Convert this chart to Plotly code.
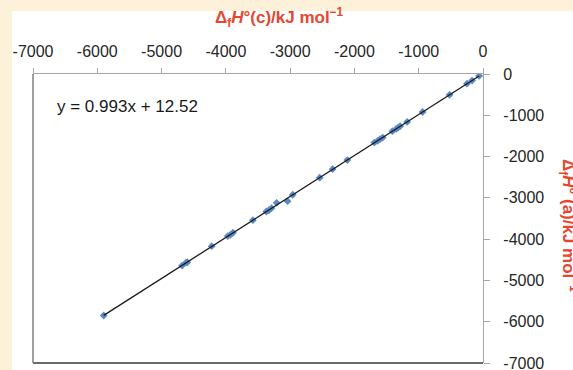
import plotly.graph_objects as go

# Data (kJ/mol)
dHf_c = [-5900, -4680, -4620, -4600, -4220, -3970, -3930, -3890, -3580, -3370,
         -3330, -3290, -3210, -3040, -2960, -2540, -2340, -2110, -1690, -1640,
         -1600, -1560, -1410, -1350, -1320, -1290, -1180, -940, -520, -250,
         -170, -60]
dHf_a = [-5850, -4640, -4570, -4560, -4170, -3925, -3895, -3845, -3540, -3330,
         -3300, -3250, -3120, -3080, -2925, -2510, -2305, -2085, -1660, -1620,
         -1575, -1540, -1385, -1330, -1300, -1265, -1160, -920, -505, -235,
         -160, -45]
slope = 0.993
intercept = 12.52
x_ticks = [-7000, -6000, -5000, -4000, -3000, -2000, -1000, 0]
y_ticks = [0, -1000, -2000, -3000, -4000, -5000, -6000, -7000]

W, H = 573, 370
L, R, T, B = 33, 483, 74, 363

def pxx(p):
    return (p - L) / (R - L)

def pxy(p):
    return (B - p) / (B - T)

trend_x = [min(dHf_c), max(dHf_c)]
trend_y = [slope * v + intercept for v in trend_x]

fig = go.Figure()
fig.add_trace(go.Scatter(x=dHf_c, y=dHf_a, mode="markers",
                         marker=dict(symbol="diamond", size=6, color="#5a8ac6"),
                         showlegend=False, hoverinfo="skip"))
fig.add_trace(go.Scatter(x=trend_x, y=trend_y, mode="lines",
                         line=dict(color="#1a1a1a", width=1.3),
                         showlegend=False, hoverinfo="skip"))

FONT = "Liberation Sans, Arial, sans-serif"
tickfont = dict(family=FONT, size=16, color="#262626")
red = "#e8452e"

fig.update_layout(
    width=W, height=H,
    margin=dict(l=L, r=W - R, t=T, b=H - B, pad=0, autoexpand=False),
    paper_bgcolor="#fdf2d9",
    plot_bgcolor="white",
    xaxis=dict(side="top", range=[-7000, 0], tickvals=x_ticks,
               ticktext=[str(v) for v in x_ticks],
               showgrid=False, zeroline=False, showline=True,
               linecolor="#a6a6a6", linewidth=1.2,
               ticks="outside", ticklen=5, tickcolor="#a6a6a6",
               tickfont=tickfont, ticklabelstandoff=5,
               ticklabeloverflow="allow", automargin=False),
    yaxis=dict(side="right", range=[-7000, 0], tickvals=y_ticks,
               ticktext=[str(v) for v in y_ticks],
               showgrid=False, zeroline=False, showline=True,
               linecolor="#a6a6a6", linewidth=1.2,
               ticks="outside", ticklen=6, tickcolor="#a6a6a6",
               tickfont=tickfont, ticklabelstandoff=10,
               ticklabeloverflow="allow", automargin=False),
    shapes=[
        dict(type="rect", xref="paper", yref="paper", layer="below",
             x0=pxx(12), x1=pxx(W + 5), y0=pxy(H + 5), y1=pxy(11),
             fillcolor="white", line=dict(width=0)),
        dict(type="line", xref="paper", yref="paper",
             x0=0, x1=0, y0=0, y1=1, line=dict(color="#7f7f7f", width=1.5)),
        dict(type="line", xref="paper", yref="paper",
             x0=0, x1=1, y0=0, y1=0, line=dict(color="#6b6b6b", width=2)),
    ],
    annotations=[
        dict(text="y = 0.993x + 12.52", xref="paper", yref="paper",
             x=pxx(55), y=pxy(106), xanchor="left", yanchor="middle",
             showarrow=False, font=dict(family=FONT, size=17, color="#1a1a1a")),
        dict(text="<b>Δ<sub>f</sub><i>H</i>°(c)/kJ mol<sup>−1</sup></b>",
             xref="paper", yref="paper", x=pxx(279), y=pxy(18),
             xanchor="center", yanchor="middle", showarrow=False,
             font=dict(family=FONT, size=17, color=red)),
        dict(text="<b>Δ<sub>f</sub><i>H</i>° (a)/kJ mol<sup>−1</sup></b>",
             xref="paper", yref="paper", x=pxx(569), y=pxy(225),
             xanchor="center", yanchor="middle", textangle=90, showarrow=False,
             font=dict(family=FONT, size=17, color=red)),
    ],
)

fig.write_html("out.html")
